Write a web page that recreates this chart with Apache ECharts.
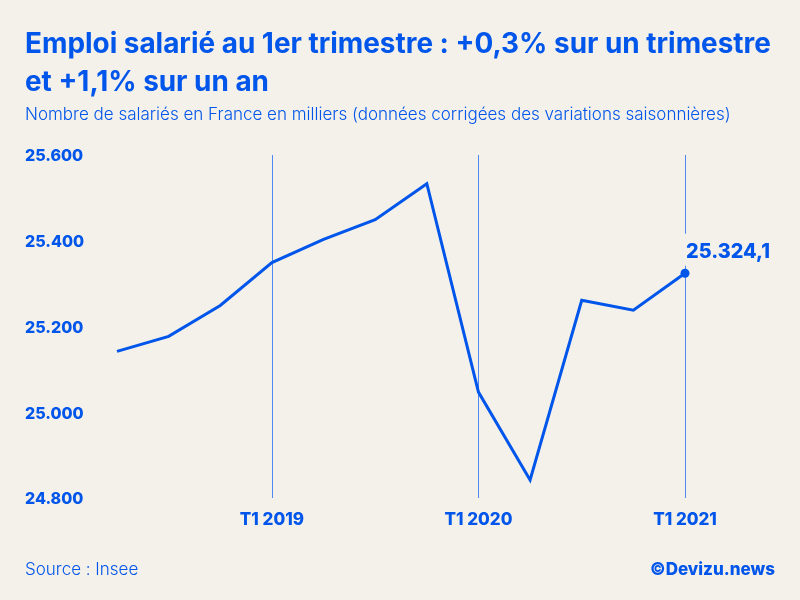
<!DOCTYPE html>
<html><head><meta charset="utf-8">
<style>html,body{margin:0;padding:0;background:#f4f1ea}#c{width:800px;height:600px}</style>
<script src="https://cdn.jsdelivr.net/npm/echarts@6/dist/echarts.min.js"></script>
</head><body><div id="c"></div>
<script>
const quarters = ['T2 2018','T3 2018','T4 2018','T1 2019','T2 2019','T3 2019','T4 2019','T1 2020','T2 2020','T3 2020','T4 2020','T1 2021'];
const salaries = [25142,25177,25249,25349,25403,25449,25533,25047,24842,25261,25238,25324.1];
const titleLines = ['Emploi salarié au 1er trimestre : +0,3% sur un trimestre','et +1,1% sur un an'];
const subtitle = 'Nombre de salariés en France en milliers (données corrigées des variations saisonnières)';
const source = 'Source : Insee';
const credit = '©Devizu.news';
const blue = '#0055ea';
const font = 'Inter';
const isT1 = (i, v) => v.startsWith('T1');
const fmtY = v => '{v|' + (v / 1000).toFixed(3) + '}';
const chart = echarts.init(document.getElementById('c'), null, {renderer:'canvas'});
chart.setOption({
  backgroundColor:'#f4f1ea',
  animation:false,
  textStyle:{fontFamily:font,color:blue},
  title:[
    {text:titleLines[0],left:25,top:31,padding:0,textStyle:{fontFamily:font,fontSize:27.9,fontWeight:700,color:blue}},
    {text:titleLines[1],left:25,top:69,padding:0,textStyle:{fontFamily:font,fontSize:27.9,fontWeight:700,color:blue}},
    {text:subtitle,left:25,top:106,padding:0,textStyle:{fontFamily:font,fontSize:17,fontWeight:300,color:blue}},
    {text:source,left:25,top:561,padding:0,textStyle:{fontFamily:font,fontSize:17,fontWeight:300,color:blue}},
    {text:credit,right:25,top:561,padding:0,textStyle:{fontFamily:font,fontSize:17,fontWeight:800,color:blue}}
  ],
  grid:{left:117,right:115,top:155,bottom:102},
  xAxis:{type:'category',boundaryGap:false,data:quarters,
    axisLine:{show:false},axisTick:{show:false},
    axisLabel:{interval:isT1,margin:13,fontFamily:font,fontSize:17,fontWeight:800,color:blue},
    splitLine:{show:true,interval:isT1,lineStyle:{color:'#4f88f0',width:1}}},
  yAxis:{type:'value',min:24800,max:25600,interval:200,
    axisLine:{show:false},axisTick:{show:false},splitLine:{show:false},
    axisLabel:{align:'left',margin:92,formatter:fmtY,
      rich:{v:{padding:[3,0,0,0],fontFamily:font,fontSize:16,fontWeight:800,color:blue}}}},
  series:[{type:'line',data:salaries,smooth:false,showSymbol:false,symbol:'circle',symbolSize:9,
    lineStyle:{color:blue,width:3,join:'miter'},itemStyle:{color:blue},
    markPoint:{symbol:'circle',symbolSize:9,itemStyle:{color:blue},
      data:[{coord:[quarters[11],salaries[11]],value:salaries[11],
        label:{show:true,position:'top',formatter:()=>'25.324,1',
          offset:[43,2],padding:[8,2,4,2],backgroundColor:'#f4f1ea',
          fontFamily:font,fontSize:19.8,fontWeight:800,color:blue}}]}
  }]
});
</script></body></html>
